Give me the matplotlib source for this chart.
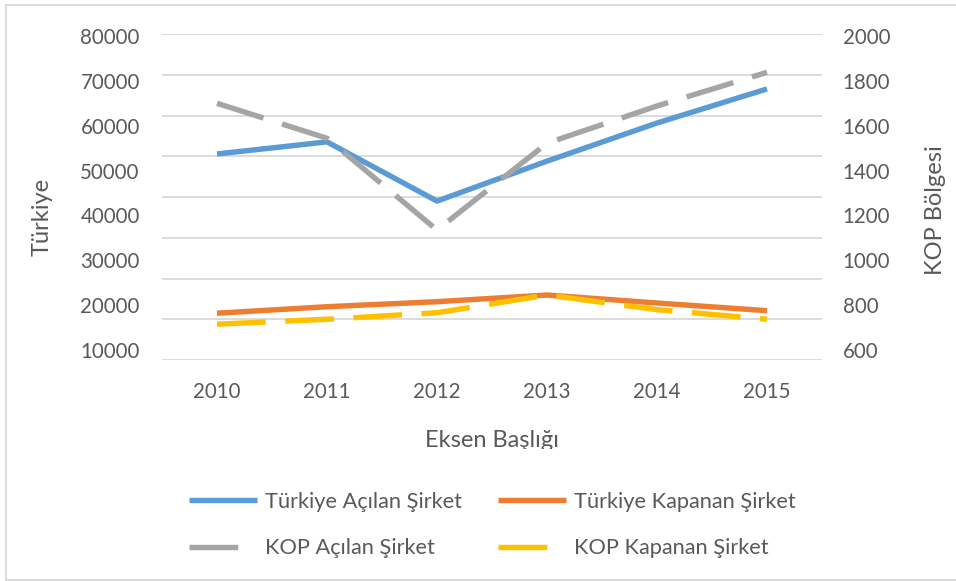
import matplotlib
matplotlib.use("Agg")
import matplotlib.pyplot as plt
from matplotlib.lines import Line2D
from matplotlib.transforms import Bbox

plt.rcParams['font.family'] = ['Lato', 'DejaVu Sans']

# ---- data ----
years = ["2010", "2011", "2012", "2013", "2014", "2015"]
turkiye_acilan = [53700, 56400, 43200, 52100, 60600, 68200]
turkiye_kapanan = [18200, 19650, 20770, 22260, 20480, 18760]
kop_acilan = [1700, 1544, 1135, 1522, 1688, 1838]
kop_kapanan = [715, 737, 766, 845, 780, 737]
left_ticks = [10000, 20000, 30000, 40000, 50000, 60000, 70000, 80000]
right_ticks = [600, 800, 1000, 1200, 1400, 1600, 1800, 2000]

labels = ["Türkiye Açılan Şirket", "Türkiye Kapanan Şirket",
          "KOP Açılan Şirket", "KOP Kapanan Şirket"]
colors = ["#5B9BD5", "#ED7D31", "#A5A5A5", "#FFC000"]

W, H = 956, 581
fig = plt.figure(figsize=(W / 100, H / 100), dpi=100)
fig.patch.set_facecolor("white")

ax_l, ax_r, ax_t, ax_b = 162, 822, 34, 360
ax = fig.add_axes([ax_l / W, 1 - ax_b / H, (ax_r - ax_l) / W, (ax_b - ax_t) / H])
ax2 = ax.twinx()

text_col = "#595959"
fs = 14.8
fs_title = 17
fs_leg = 15.7
lw = 3.9
dash = (9, 3.6)

x = list(range(len(years)))
l1, = ax.plot(x, turkiye_acilan, color=colors[0], lw=lw, solid_capstyle="butt",
              solid_joinstyle="round", zorder=3)
l2, = ax.plot(x, turkiye_kapanan, color=colors[1], lw=lw, solid_capstyle="butt",
              solid_joinstyle="round", zorder=3)
l3, = ax2.plot(x, kop_acilan, color=colors[2], lw=lw, dashes=dash,
               dash_capstyle="butt", dash_joinstyle="round", zorder=3)
l4, = ax2.plot(x, kop_kapanan, color=colors[3], lw=lw, dashes=dash,
               dash_capstyle="butt", dash_joinstyle="round", zorder=3)

# limits: tick labels at pixel rows 36 (top value) and 350 (bottom value)
def lims(lo, hi):
    per_px = (hi - lo) / (350 - 36)
    top = hi + (36 - ax_t) * per_px
    bot = hi - (ax_b - 36) * per_px
    return bot, top

lb, lt = lims(left_ticks[0], left_ticks[-1])
rb, rt = lims(right_ticks[0], right_ticks[-1])
ax.set_ylim(lb, lt)
ax2.set_ylim(rb, rt)
ax.set_xlim(-0.5, len(years) - 0.5)

# gridlines: 9 evenly spaced across plot height
for k in range(9):
    ax.axhline(lb + k * (lt - lb) / 8, color="#D9D9D9", lw=1.3, zorder=1)

ax.set_yticks(left_ticks)
ax.set_yticklabels([str(v) for v in left_ticks])
ax2.set_yticks(right_ticks)
ax2.set_yticklabels([str(v) for v in right_ticks])
ax.set_xticks(x)
ax.set_xticklabels(years)

for a in (ax, ax2):
    for s in a.spines.values():
        s.set_visible(False)
    a.tick_params(length=0, labelsize=fs, labelcolor=text_col)
    a.set_facecolor("none")
ax.tick_params(axis="y", pad=16)
ax2.tick_params(axis="y", pad=15)
ax.tick_params(axis="x", pad=16)

fig.text(42 / W, 1 - 217 / H, "Türkiye", rotation=90, ha="center", va="center",
         fontsize=fs_title, color=text_col)
fig.text(935 / W, 1 - 210 / H, "KOP Bölgesi", rotation=90, ha="center", va="center",
         fontsize=fs_title, color=text_col)
t = fig.text(492 / W, 1 - 447 / H, "Eksen Başlığı", ha="center", va="baseline",
             fontsize=fs_title, color=text_col)
t.set_clip_box(Bbox.from_extents(0, H - 449, W, H))
t.set_clip_on(True)

leg = fig.legend([l1, l3, l2, l4], [labels[0], labels[2], labels[1], labels[3]],
                 ncol=2, loc="upper left", bbox_to_anchor=(189 / W, 1 - 492 / H),
                 frameon=False, fontsize=fs_leg, handlelength=3.12, handletextpad=0.37,
                 columnspacing=1.65, labelspacing=1.2, borderpad=0, borderaxespad=0)
for txt in leg.get_texts():
    txt.set_color(text_col)

# outer border
bc = "#D9D9D9"
fig.add_artist(Line2D([6 / W, 6 / W], [1 - 580 / H, 1 - 4.5 / H], color=bc, lw=1.3))
fig.add_artist(Line2D([6 / W, 1], [1 - 4.5 / H, 1 - 4.5 / H], color=bc, lw=1.3))
fig.add_artist(Line2D([6 / W, 1], [1 - 580 / H, 1 - 580 / H], color=bc, lw=1.3))

fig.savefig("out.png", dpi=100)
